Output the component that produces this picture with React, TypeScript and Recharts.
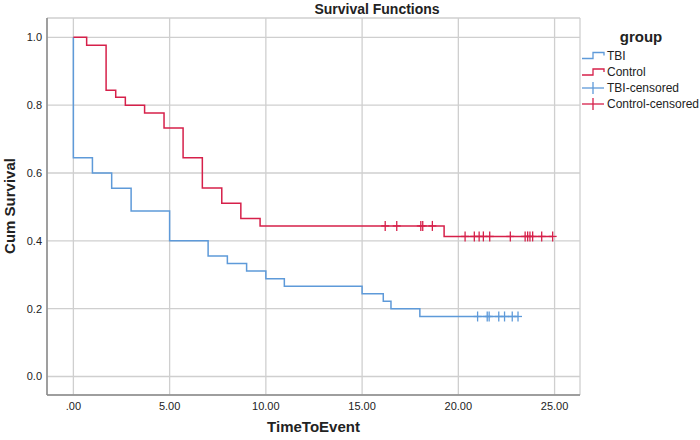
import React from 'react';
import { ComposedChart, Line, Scatter, XAxis, YAxis, CartesianGrid, Customized } from 'recharts';

// Kaplan-Meier step points (time, cumulative survival)
const tbiTimes = [0, 0, 0.99, 1.99, 3.0, 5.0, 7.0, 8.0, 9.0, 10.0, 10.96, 15.0, 16.1, 16.5, 18.0, 23.1];
const tbiSurvival = [1.0, 0.645, 0.6, 0.555, 0.488, 0.4, 0.355, 0.333, 0.311, 0.288, 0.266, 0.244, 0.222, 0.2, 0.177, 0.177];
const controlTimes = [0, 0.69, 1.7, 2.2, 2.7, 3.7, 4.71, 5.7, 6.7, 7.71, 8.7, 9.7, 19.26, 24.9];
const controlSurvival = [1.0, 0.977, 0.844, 0.823, 0.8, 0.777, 0.733, 0.645, 0.556, 0.511, 0.466, 0.444, 0.413, 0.413];

// Censored observations
const tbiCensoredTimes = [21.0, 21.5, 21.6, 22.1, 22.4, 22.8, 23.1];
const tbiCensoredSurvival = [0.177, 0.177, 0.177, 0.177, 0.177, 0.177, 0.177];
const controlCensoredTimes = [16.2, 16.8, 18.05, 18.15, 18.65, 20.35, 20.83, 21.08, 21.3, 21.63, 22.7, 23.47, 23.6, 23.72, 23.86, 24.33, 24.9];
const controlCensoredSurvival = [0.444, 0.444, 0.444, 0.444, 0.444, 0.413, 0.413, 0.413, 0.413, 0.413, 0.413, 0.413, 0.413, 0.413, 0.413, 0.413, 0.413];

const xTicks = [0, 5, 10, 15, 20, 25];
const yTicks = [0, 0.2, 0.4, 0.6, 0.8, 1.0];
const legendLabels = ['TBI', 'Control', 'TBI-censored', 'Control-censored'];

const title = 'Survival Functions';
const xTitle = 'TimeToEvent';
const yTitle = 'Cum Survival';
const legendTitle = 'group';

const BLUE = '#5e9ad9';
const RED = '#d6204a';
const FONT = '"Liberation Sans", Arial, sans-serif';

const zip = (ts: number[], ss: number[]) => ts.map((t, i) => ({ t, s: ss[i] }));
const tbiData = zip(tbiTimes, tbiSurvival);
const controlData = zip(controlTimes, controlSurvival);
const tbiCens = zip(tbiCensoredTimes, tbiCensoredSurvival);
const controlCens = zip(controlCensoredTimes, controlCensoredSurvival);

const makeCross = (color: string) => (props: any) => {
  const { cx, cy } = props;
  if (cx == null || cy == null) return <g />;
  return (
    <g>
      <line x1={cx} x2={cx} y1={cy - 5} y2={cy + 5} stroke={color} strokeWidth={1.3} />
      <line x1={cx - 4} x2={cx + 4} y1={cy} y2={cy} stroke={color} strokeWidth={1.3} />
    </g>
  );
};

const fmtX = (v: number) => (v === 0 ? '.00' : v.toFixed(2));
const fmtY = (v: number) => v.toFixed(1);

const Decorations = () => {
  const colors = [BLUE, RED, BLUE, RED];
  const rowsY = [55.5, 72, 88, 104];
  return (
    <g fontFamily={FONT}>
      <text x={377} y={9} textAnchor="middle" dominantBaseline="central" fontSize={14} fontWeight="bold" fill="#222">{title}</text>
      <text x={313.5} y={426} textAnchor="middle" dominantBaseline="central" fontSize={15} fontWeight="bold" fill="#222">{xTitle}</text>
      <text x={9} y={206} textAnchor="middle" dominantBaseline="central" fontSize={15} fontWeight="bold" fill="#222" transform="rotate(-90 9 206)">{yTitle}</text>
      <text x={641} y={36} textAnchor="middle" dominantBaseline="central" fontSize={15} fontWeight="bold" fill="#222">{legendTitle}</text>
      {legendLabels.map((lab, i) => {
        const y = rowsY[i];
        const c = colors[i];
        return (
          <g key={lab}>
            {i < 2 ? (
              <path d={`M582 ${y + 3} H593 V${y - 3} H604 V${y}`} fill="none" stroke={c} strokeWidth={1.3} />
            ) : (
              <g>
                <line x1={582} x2={604} y1={y} y2={y} stroke={c} strokeWidth={1.3} />
                <line x1={593} x2={593} y1={y - 6} y2={y + 6} stroke={c} strokeWidth={1.3} />
              </g>
            )}
            <text x={607} y={y} dominantBaseline="central" fontSize={12} fill="#222">{lab}</text>
          </g>
        );
      })}
    </g>
  );
};

export default function App() {
  return (
    <div style={{ position: 'fixed', left: 0, top: 0, width: 700, height: 440, background: '#fff' }}>
      <ComposedChart width={700} height={440} margin={{ top: 18, right: 120, bottom: 0, left: 0 }}>
        <CartesianGrid stroke="#cfcfcf" strokeWidth={1.3} />
        <XAxis
          type="number"
          dataKey="t"
          domain={[-1.37, 26.32]}
          ticks={xTicks}
          tickFormatter={fmtX}
          allowDataOverflow
          tickLine={false}
          tickSize={0}
          tickMargin={7}
          axisLine={{ stroke: '#8a8a8a', strokeWidth: 1.5 }}
          tick={{ fontSize: 11, fill: '#222', fontFamily: FONT }}
          height={45}
        />
        <YAxis
          type="number"
          dataKey="s"
          domain={[-0.0545, 1.057]}
          ticks={yTicks}
          tickFormatter={fmtY}
          allowDataOverflow
          tickLine={false}
          tickSize={0}
          tickMargin={5}
          width={47}
          axisLine={{ stroke: '#8a8a8a', strokeWidth: 1.5 }}
          tick={{ fontSize: 11, fill: '#222', fontFamily: FONT }}
        />
        <Line data={tbiData} dataKey="s" type="stepAfter" stroke={BLUE} strokeWidth={1.5} dot={false} isAnimationActive={false} />
        <Line data={controlData} dataKey="s" type="stepAfter" stroke={RED} strokeWidth={1.5} dot={false} isAnimationActive={false} />
        <Scatter data={tbiCens} dataKey="s" shape={makeCross(BLUE)} isAnimationActive={false} />
        <Scatter data={controlCens} dataKey="s" shape={makeCross(RED)} isAnimationActive={false} />
        <Customized component={Decorations} />
      </ComposedChart>
    </div>
  );
}
